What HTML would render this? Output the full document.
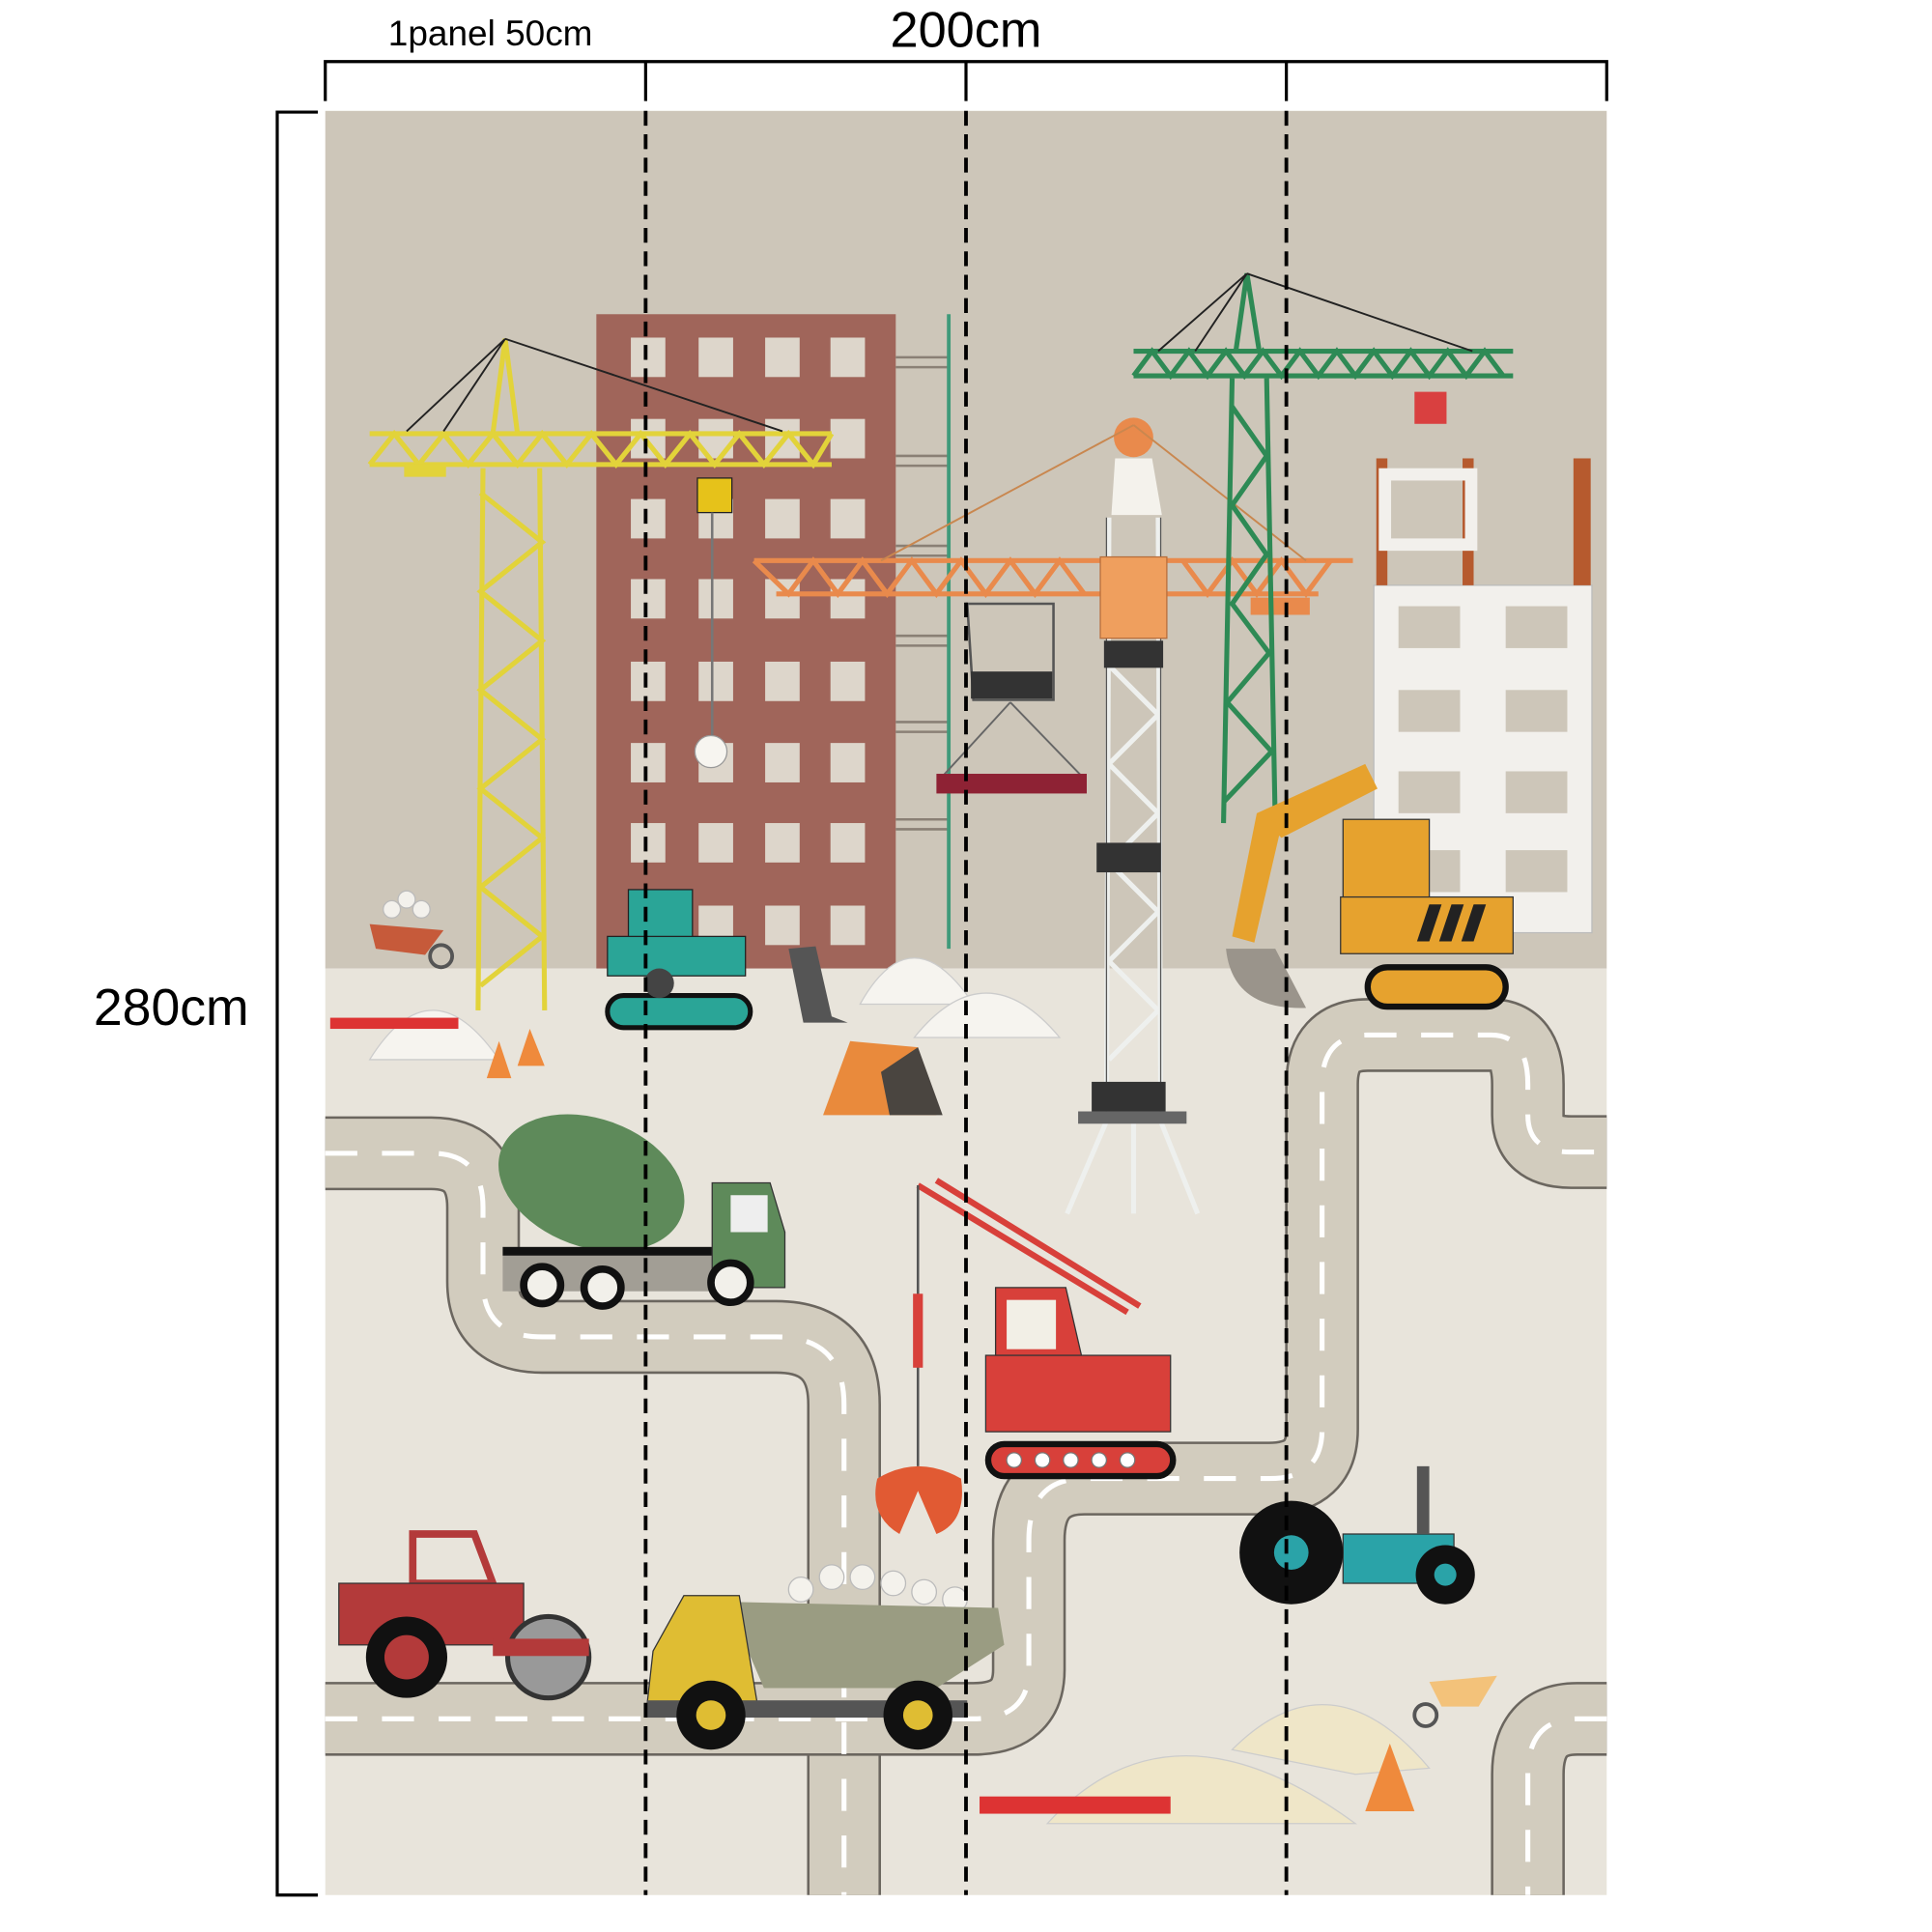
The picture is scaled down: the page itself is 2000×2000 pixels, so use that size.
<!DOCTYPE html>
<html><head><style>
html,body{margin:0;padding:0;background:#fff;width:2000px;height:2000px;overflow:hidden}
svg{display:block}
</style></head><body>
<svg width="2000" height="2000" viewBox="0 0 1568 1568" xmlns="http://www.w3.org/2000/svg">
<rect x="0" y="0" width="1568" height="1568" fill="#fff"/>
<rect x="264" y="90" width="1040" height="696" fill="#cdc6b9"/>
<rect x="264" y="786" width="1040" height="752" fill="#e8e4db"/>

<g fill="none" stroke-linejoin="round" stroke-linecap="butt">
<path d="M264,936 H350 Q392,936 392,980 V1040 Q392,1085 440,1085 H630 Q685,1085 685,1140 V1538" stroke="#6b665f" stroke-width="60"/>
<path d="M264,936 H350 Q392,936 392,980 V1040 Q392,1085 440,1085 H630 Q685,1085 685,1140 V1538" stroke="#d2ccbe" stroke-width="56"/>
<path d="M264,1395 H790 Q835,1395 835,1355 V1250 Q835,1200 880,1200 H1030 Q1073,1200 1073,1160 V880 Q1073,840 1110,840 H1210 Q1240,840 1240,880 V905 Q1240,935 1275,935 H1304" stroke="#6b665f" stroke-width="60"/>
<path d="M264,1395 H790 Q835,1395 835,1355 V1250 Q835,1200 880,1200 H1030 Q1073,1200 1073,1160 V880 Q1073,840 1110,840 H1210 Q1240,840 1240,880 V905 Q1240,935 1275,935 H1304" stroke="#d2ccbe" stroke-width="56"/>
<path d="M1304,1395 H1280 Q1240,1395 1240,1440 V1538" stroke="#6b665f" stroke-width="60"/>
<path d="M1304,1395 H1280 Q1240,1395 1240,1440 V1538" stroke="#d2ccbe" stroke-width="56"/>
<g stroke="#fff" stroke-width="4" stroke-dasharray="26,20">
<path d="M264,936 H350 Q392,936 392,980 V1040 Q392,1085 440,1085 H630 Q685,1085 685,1140 V1538"/>
<path d="M264,1395 H790 Q835,1395 835,1355 V1250 Q835,1200 880,1200 H1030 Q1073,1200 1073,1160 V880 Q1073,840 1110,840 H1210 Q1240,840 1240,880 V905 Q1240,935 1275,935 H1304"/>
<path d="M1304,1395 H1280 Q1240,1395 1240,1440 V1538"/>
</g>
</g>

<rect x="484" y="255" width="243" height="531" fill="#a0655a"/>
<g fill="#ddd6cb">
<g id="wr"><rect x="512" y="274" width="28" height="32"/><rect x="567" y="274" width="28" height="32"/><rect x="621" y="274" width="28" height="32"/><rect x="674" y="274" width="28" height="32"/></g>
<use href="#wr" y="66"/><use href="#wr" y="131"/><use href="#wr" y="196"/><use href="#wr" y="263"/><use href="#wr" y="329"/><use href="#wr" y="394"/><use href="#wr" y="461"/>
</g>
<g stroke="#8a8075" stroke-width="2" fill="none">
<path d="M727,290 H770 M727,298 H770 M727,370 H770 M727,378 H770 M727,443 H770 M727,451 H770 M727,516 H770 M727,524 H770 M727,586 H770 M727,594 H770 M727,665 H770 M727,673 H770"/>
</g>
<line x1="770" y1="255" x2="770" y2="770" stroke="#3f9a7a" stroke-width="3"/>

<rect x="1115" y="475" width="177" height="282" fill="#f2f0ec" stroke="#bbb" stroke-width="1"/>
<g fill="#cdc6b9">
<rect x="1135" y="492" width="50" height="34"/><rect x="1222" y="492" width="50" height="34"/>
<rect x="1135" y="560" width="50" height="34"/><rect x="1222" y="560" width="50" height="34"/>
<rect x="1135" y="626" width="50" height="34"/><rect x="1222" y="626" width="50" height="34"/>
<rect x="1135" y="690" width="50" height="34"/><rect x="1222" y="690" width="50" height="34"/>
</g>
<g fill="#b65a2e"><rect x="1117" y="372" width="9" height="103"/><rect x="1187" y="372" width="9" height="103"/><rect x="1277" y="372" width="14" height="103"/></g>
<rect x="1124" y="385" width="70" height="57" fill="none" stroke="#f2f0ec" stroke-width="10"/>

<g stroke="#e2d33a" stroke-width="4" fill="none">
<path d="M392,380 L388,820 M438,380 L442,820"/>
<path d="M390,400 L440,440 L390,480 L440,520 L390,560 L440,600 L390,640 L440,680 L390,720 L440,760 L390,800"/>
<path d="M300,352 H675 M300,377 H675"/>
<path d="M300,377 L320,352 L340,377 L360,352 L380,377 L400,352 L420,377 L440,352 L460,377 L480,352 L500,377 L520,352 L540,377 L560,352 L580,377 L600,352 L620,377 L640,352 L660,377 L675,352"/>
<path d="M400,352 L410,275 L420,352"/>
</g>
<rect x="328" y="377" width="34" height="10" fill="#e2d33a"/>
<g stroke="#222" stroke-width="1.5"><path d="M410,275 L635,350 M410,275 L330,350 M410,275 L360,350"/></g>
<rect x="566" y="388" width="28" height="28" fill="#e6c21a" stroke="#222"/>
<line x1="578" y1="416" x2="578" y2="600" stroke="#777" stroke-width="2"/>
<circle cx="577" cy="610" r="13" fill="#f7f5f0" stroke="#999"/>

<g stroke="#eef0ee" fill="none" stroke-width="4">
<path d="M900,420 L898,905 M940,420 L942,905"/>
<path d="M900,540 L940,580 L900,620 L940,660 L900,700 L940,740 L900,780 L940,820 L900,860"/>
<path d="M898,910 L866,985 M942,910 L972,985 M920,910 L920,985"/>
</g>
<g stroke="#555" stroke-width="1" fill="none"><path d="M898,420 V905 M942,420 V905"/></g>
<rect x="896" y="520" width="48" height="22" fill="#333"/><rect x="890" y="684" width="52" height="24" fill="#333"/><rect x="886" y="878" width="60" height="24" fill="#333"/>
<rect x="875" y="902" width="88" height="10" fill="#666"/>
<circle cx="920" cy="355" r="16" fill="#e98a4c"/>
<path d="M905,372 H935 L943,418 H902 Z" fill="#f4f2ec"/>
<g stroke="#e98a4c" stroke-width="4" fill="none">
<path d="M612,455 H1098 M630,482 H1070"/>
<path d="M612,455 L640,482 L660,455 L680,482 L700,455 L720,482 L740,455 L760,482 L780,455 L800,482 L820,455 L840,482 L860,455 L880,482 M960,455 L980,482 L1000,455 L1020,482 L1040,455 L1060,482 L1080,455"/>
</g>
<rect x="893" y="452" width="54" height="66" fill="#ef9f5e" stroke="#b76d3a"/>
<rect x="1015" y="485" width="48" height="14" fill="#e98a4c"/>
<g stroke="#c9874f" stroke-width="1.5"><path d="M920,345 L715,455 M920,345 L1060,455"/></g>
<path d="M785,490 H855 V568 H790 Z" fill="none" stroke="#555" stroke-width="2"/>
<rect x="788" y="545" width="66" height="22" fill="#333"/>
<path d="M820,570 L765,630 M820,570 L878,630" stroke="#666" stroke-width="1.5"/>
<rect x="760" y="628" width="122" height="16" fill="#8e2234"/>

<g stroke="#2e8a55" stroke-width="4" fill="none">
<path d="M1000,307 L993,668 M1028,307 L1035,668"/>
<path d="M1000,330 L1028,370 L1000,410 L1028,450 L1000,490 L1030,530 L996,570 L1032,610 L994,650"/>
<path d="M920,285 H1228 M920,305 H1228"/>
<path d="M920,305 L935,285 L950,305 L965,285 L980,305 L995,285 L1010,305 L1025,285 L1040,305 L1055,285 L1070,305 L1085,285 L1100,305 L1115,285 L1130,305 L1145,285 L1160,305 L1175,285 L1190,305 L1205,285 L1220,305"/>
<path d="M1003,285 L1012,222 L1022,285"/>
</g>
<g stroke="#222" stroke-width="1.5"><path d="M1012,222 L1195,285 M1012,222 L940,285 M1012,222 L970,285"/></g>
<rect x="1148" y="318" width="26" height="26" fill="#d94040"/>

<rect x="510" y="722" width="52" height="42" fill="#2aa597" stroke="#222"/>
<rect x="493" y="760" width="112" height="32" fill="#2aa597" stroke="#222"/>
<path d="M640,770 L662,768 L675,825 L688,830 L652,830 Z" fill="#555"/>
<rect x="493" y="808" width="116" height="26" rx="13" fill="#2aa597" stroke="#111" stroke-width="4"/>
<circle cx="535" cy="798" r="12" fill="#444"/>

<path d="M300,750 L360,755 L345,775 L305,770 Z" fill="#c65a3a"/><circle cx="358" cy="776" r="9" fill="none" stroke="#555" stroke-width="3"/>
<g fill="#f3f1ec" stroke="#bbb"><circle cx="318" cy="738" r="7"/><circle cx="330" cy="730" r="7"/><circle cx="342" cy="738" r="7"/></g>
<path d="M300,860 Q350,780 405,860 Z" fill="#f6f4ef" stroke="#ccc"/>
<path d="M698,815 Q740,740 790,815 Z" fill="#f6f4ef" stroke="#ccc"/>
<path d="M742,842 Q800,770 860,842 Z" fill="#f6f4ef" stroke="#ccc"/>
<rect x="268" y="826" width="104" height="9" fill="#d33"/>
<path d="M395,875 L405,845 L415,875 Z M420,865 L430,835 L442,865 Z" fill="#ef8a3c"/>
<path d="M668,905 L690,845 L745,850 L760,905 Z" fill="#e98a3c"/>
<path d="M715,870 L745,850 L765,905 L722,905 Z" fill="#4a4540"/>

<path d="M1020,660 L1108,620 L1118,640 L1040,680 Z" fill="#e6a22e"/>
<path d="M1020,660 L1000,760 L1018,765 L1040,670 Z" fill="#e6a22e"/>
<path d="M995,770 Q1000,820 1060,818 L1035,770 Z" fill="#9a948b"/>
<rect x="1090" y="665" width="70" height="65" fill="#e6a22e" stroke="#333"/>
<rect x="1088" y="728" width="140" height="46" fill="#e6a22e" stroke="#333"/>
<g fill="#222"><path d="M1160,734 h10 l-10,30 h-10 z M1178,734 h10 l-10,30 h-10 z M1196,734 h10 l-10,30 h-10 z"/></g>
<rect x="1110" y="785" width="112" height="32" rx="16" fill="#e6a22e" stroke="#111" stroke-width="5"/>

<ellipse cx="480" cy="960" rx="78" ry="52" fill="#5e8a5a" transform="rotate(20 480 960)"/>
<rect x="408" y="1018" width="170" height="30" fill="#a29e95"/>
<rect x="408" y="1012" width="170" height="7" fill="#111"/>
<path d="M578,960 H625 L637,1000 V1045 H578 Z" fill="#5e8a5a" stroke="#333"/>
<rect x="593" y="970" width="30" height="30" fill="#eee"/>
<g fill="#f2f0ea" stroke="#111" stroke-width="6"><circle cx="440" cy="1043" r="15"/><circle cx="489" cy="1045" r="15"/><circle cx="593" cy="1041" r="16"/></g>

<g stroke="#d8403a" stroke-width="5" fill="none"><path d="M745,962 L915,1065 M760,958 L925,1060"/></g>
<line x1="745" y1="962" x2="745" y2="1190" stroke="#555" stroke-width="2"/>
<rect x="741" y="1050" width="8" height="60" fill="#d8403a"/>
<path d="M712,1200 Q745,1180 780,1200 Q785,1235 760,1245 L745,1210 L730,1245 Q705,1230 712,1200 Z" fill="#e15a33"/>
<path d="M808,1045 H865 L880,1110 H808 Z" fill="#d8403a" stroke="#333"/>
<rect x="817" y="1055" width="40" height="40" fill="#f2efe6"/>
<rect x="800" y="1100" width="150" height="62" fill="#d8403a" stroke="#333"/>
<rect x="802" y="1172" width="150" height="26" rx="13" fill="#d8403a" stroke="#111" stroke-width="5"/>
<g fill="#fff" stroke="#777"><circle cx="823" cy="1185" r="6"/><circle cx="846" cy="1185" r="6"/><circle cx="869" cy="1185" r="6"/><circle cx="892" cy="1185" r="6"/><circle cx="915" cy="1185" r="6"/></g>

<rect x="1090" y="1245" width="90" height="40" fill="#2aa3a8" stroke="#333"/>
<rect x="1150" y="1190" width="10" height="55" fill="#555"/>
<circle cx="1048" cy="1260" r="42" fill="#111"/><circle cx="1048" cy="1260" r="14" fill="#2aa3a8"/>
<circle cx="1173" cy="1278" r="24" fill="#111"/><circle cx="1173" cy="1278" r="9" fill="#2aa3a8"/>

<path d="M335,1245 H385 L400,1285 H335 Z" fill="none" stroke="#b33a3a" stroke-width="6"/>
<rect x="275" y="1285" width="150" height="50" fill="#b33a3a" stroke="#333"/>
<circle cx="330" cy="1345" r="33" fill="#111"/><circle cx="330" cy="1345" r="18" fill="#b33a3a"/>
<circle cx="445" cy="1345" r="33" fill="#999" stroke="#333" stroke-width="4"/>
<rect x="400" y="1330" width="78" height="14" fill="#b33a3a"/>

<g fill="#f4f2ec" stroke="#bbb"><circle cx="650" cy="1290" r="10"/><circle cx="675" cy="1280" r="10"/><circle cx="700" cy="1280" r="10"/><circle cx="725" cy="1285" r="10"/><circle cx="750" cy="1292" r="10"/><circle cx="775" cy="1298" r="10"/></g>
<path d="M590,1300 L810,1305 L815,1335 L760,1370 H620 Z" fill="#9a9c82"/>
<path d="M530,1340 L555,1295 H600 L615,1385 H525 Z" fill="#dfbd33" stroke="#333"/>
<rect x="525" y="1380" width="260" height="14" fill="#555"/>
<circle cx="577" cy="1392" r="28" fill="#111"/><circle cx="577" cy="1392" r="12" fill="#dfbd33"/>
<circle cx="745" cy="1392" r="28" fill="#111"/><circle cx="745" cy="1392" r="12" fill="#dfbd33"/>

<path d="M850,1480 Q950,1370 1100,1480 Z" fill="#efe6c8" stroke="#ccc"/>
<path d="M1000,1420 Q1080,1340 1160,1435 L1100,1440 Z" fill="#efe6c8" stroke="#ccc"/>
<rect x="795" y="1458" width="155" height="14" fill="#d33"/>
<path d="M1108,1470 L1128,1415 L1148,1470 Z" fill="#ef8a3c"/>
<path d="M1160,1365 L1215,1360 L1200,1385 L1170,1385 Z" fill="#f3c27a"/><circle cx="1157" cy="1392" r="9" fill="none" stroke="#555" stroke-width="3"/>

<g stroke="#000" stroke-width="3" stroke-dasharray="12,7">
<line x1="524" y1="90" x2="524" y2="1538"/>
<line x1="784" y1="90" x2="784" y2="1538"/>
<line x1="1044" y1="90" x2="1044" y2="1538"/>
</g>

<g stroke="#000" stroke-width="2.5" fill="none">
<path d="M264,82 V50 H1304 V82"/>
<path d="M524,50 V82 M784,50 V82 M1044,50 V82"/>
<path d="M258,91 H225 V1538 H258"/>
</g>
<g font-family="Liberation Sans, sans-serif" fill="#000">
<text x="784" y="38" font-size="41" text-anchor="middle">200cm</text>
<text x="398" y="37" font-size="29" text-anchor="middle">1panel 50cm</text>
<text x="139" y="832" font-size="42" text-anchor="middle">280cm</text>
</g>
</svg>
</body></html>
